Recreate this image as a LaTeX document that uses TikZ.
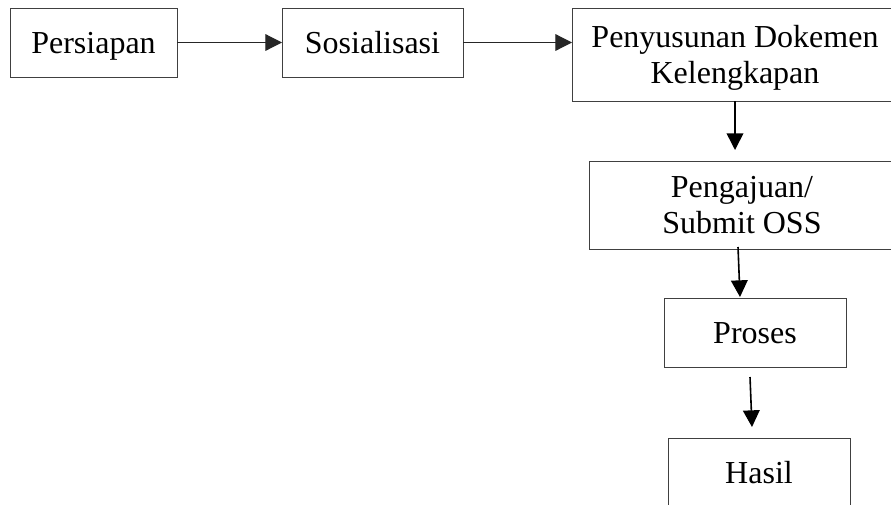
\documentclass[tikz,border=0pt]{standalone}
\usepackage{fontspec}
\setmainfont{Liberation Serif}
\usetikzlibrary{arrows.meta,calc}
\begin{document}
\begin{tikzpicture}[x=0.75pt,y=-0.75pt,
  box/.style={draw=black!75,line width=0.7pt,rectangle,inner sep=0pt,outer sep=0pt,
    align=center,font=\fontsize{24}{27.5}\selectfont,minimum height=51.75pt,text depth=0pt},
  arr/.style={draw=black,line width=1.2pt,-{Triangle[length=12.5pt,width=12.5pt]}},
  harr/.style={arr,draw=black!85,line width=0.9pt}]
\useasboundingbox (0,0) rectangle (891,504);
\clip (0,0) rectangle (891,504);
\fill[white] (0,0) rectangle (891,504);
\node[box,minimum width=125.25pt,text height=17pt] (per) at (93.5,42.5) {Persiapan};
\node[box,minimum width=135.75pt,text height=17pt] (sos) at (372.5,42.5) {Sosialisasi};
\node[box,minimum width=244.5pt,minimum height=69.75pt] (pen) at (735,54.5) {Penyusunan Dokemen\\Kelengkapan};
\node[box,minimum width=229.5pt,minimum height=66pt] (peng) at (742,205) {Pengajuan/\\Submit OSS};
\node[box,minimum width=136.5pt,text height=17pt] (pro) at (755,332.5) {Proses};
\node[box,minimum width=136.5pt,text height=17pt] (has) at (759,472.5) {Hasil};
\coordinate (a1) at ($(peng.north)+(-7,-11)$);
\coordinate (b2) at ($(peng.south)+(-4,-2)$);
\coordinate (a2) at ($(pro.north)+(-15,-1)$);
\coordinate (b3) at ($(pro.south)+(-5,10)$);
\coordinate (a3) at ($(has.north)+(-7,-11)$);
\draw[harr] (per.east) -- (sos.west);
\draw[harr] (sos.east) -- (pen.west |- sos.east);
\draw[arr] (pen.south) -- (a1);
\draw[arr] (b2) -- (a2);
\draw[arr] (b3) -- (a3);
\end{tikzpicture}
\end{document}
